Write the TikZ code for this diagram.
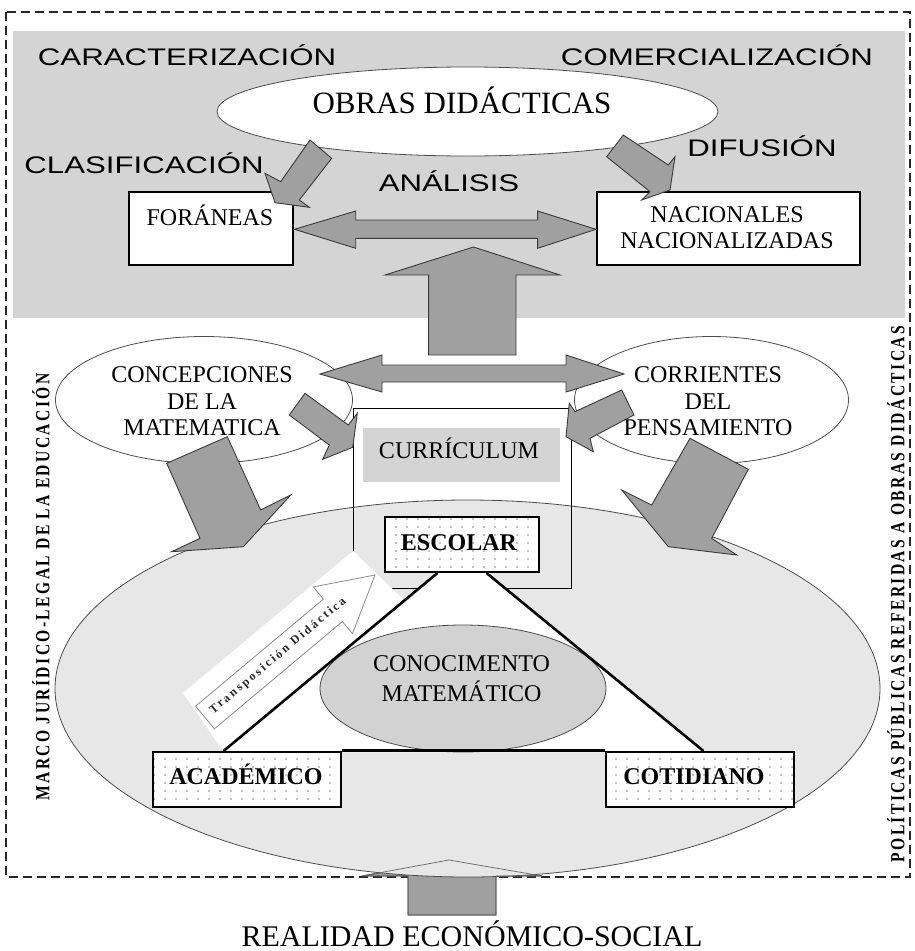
\documentclass[tikz,border=0pt]{standalone}
\usepackage{fontspec}
\setmainfont{Liberation Serif}
\newfontfamily\handfont{Liberation Sans}
\newfontfamily\sidefont[FakeStretch=0.78,LetterSpace=12]{Liberation Serif}
\newfontfamily\transfont[LetterSpace=20]{Liberation Serif}
\usetikzlibrary{shapes.geometric,patterns}
\newcommand\fsz[2]{\fontsize{#1}{#2}\selectfont}

% sparse dot fill for the three knowledge boxes
\pgfdeclarepatternformonly{sparsedots}{\pgfqpoint{-1pt}{-1pt}}{\pgfqpoint{1pt}{1pt}}{\pgfqpoint{11pt}{8pt}}{%
  \pgfpathcircle{\pgfqpoint{0pt}{0pt}}{0.7pt}\pgfusepath{fill}}

\definecolor{panelgray}{HTML}{D4D4D4}
\definecolor{arrowgray}{HTML}{A0A0A0}
\definecolor{fieldgray}{HTML}{E6E7E6}
\definecolor{coregray}{HTML}{D2D2D2}
\definecolor{edgegray}{HTML}{3A3A3A}

\tikzset{
  frame/.style={draw=black!85, line width=1.2pt, dash pattern=on 9pt off 5pt},
  blockarrow/.style={fill=arrowgray, draw=edgegray, line width=0.9pt, line join=miter},
  arrowedge/.style={draw=edgegray, line width=0.9pt, line join=miter},
  ovalnode/.style={ellipse, draw=black!70, line width=0.8pt, inner sep=0pt},
  plainbox/.style={rectangle, draw=black, line width=1.2pt, fill=white, inner sep=0pt},
  dotbox/.style={rectangle, draw=black, line width=2.8pt, fill=white,
    postaction={pattern=sparsedots}, inner sep=0pt},
  hand/.style={font=\handfont\fsz{24}{26}, inner sep=0pt, anchor=base},
  serif/.style={font=\fsz{24}{26.5}, inner sep=0pt, align=center},
  boldlabel/.style={font=\bfseries\fsz{24}{26}, inner sep=0pt, anchor=base},
  triline/.style={line width=2.6pt, line cap=round},
  sidelabel/.style={font=\sidefont\bfseries\fsz{20}{22}, rotate=90, inner sep=0pt},
}

\begin{document}
\begin{tikzpicture}[x=1pt,y=-1pt]
\useasboundingbox (0,0) rectangle (914,951);

% outer dashed frame and the upper panel
\draw[frame] (6,12) rectangle (910,877);
\fill[panelgray] (13,31) rectangle (905,318);

% socio-economic reality pushing up into the field
\filldraw[blockarrow] (449,860) -- (542,876) -- (496,876) -- (496,915) -- (408,915)
  -- (408,876) -- (362,876) -- cycle;

% the large field ellipse
\node[ovalnode, fill=fieldgray, minimum width=825pt, minimum height=377pt] (field) at (467.5,688.5) {};
\draw[arrowedge, draw=black!60, line width=0.7pt] (449,860) -- (542,876) -- (496,876) -- (496,915)
  -- (408,915) -- (408,876) -- (362,876) -- cycle;

% side ellipses
\node[ovalnode, fill=white, minimum width=297pt, minimum height=127pt] (conc) at (204,400) {};
\node[ovalnode, fill=white, minimum width=274pt, minimum height=127pt] (corr) at (711.5,400) {};

% curriculum frame
\node[rectangle, draw=black, line width=1pt, minimum width=218pt, minimum height=180pt, inner sep=0pt] (currbox) at (462,498) {};
\node[rectangle, fill=panelgray, minimum width=197pt, minimum height=54pt, inner sep=0pt] (currlbl) at (461.5,455) {};

% white band and triangle interior
\fill[white] (183,693) -- (353,551) -- (404,600) -- (437,573) -- (487,573) -- (703,752) -- (224,752) -- cycle;

% knowledge core
\node[ovalnode, fill=coregray, minimum width=286pt, minimum height=127pt] (core) at (463,688.5) {};

% didactic transposition arrow
\filldraw[fill=white, draw=black!45, line width=0.8pt, line join=miter]
  (195.6,706.2) -- (323.4,599.1) -- (313.3,586.9) -- (375,575) -- (352.5,633.7)
  -- (342.3,621.6) -- (214.4,728.8) -- cycle;
\node[font=\transfont\bfseries\fsz{12}{14}, text=black!85, rotate=40, inner sep=0pt] (transp) at (278,656) {Transposición Didáctica};

% the three kinds of knowledge
\node[dotbox, minimum width=154pt, minimum height=55pt] (esc) at (462,544.5) {};
\node[dotbox, minimum width=188pt, minimum height=55pt] (acad) at (247,779.5) {};
\node[dotbox, minimum width=188pt, minimum height=55pt] (cot) at (700,779.5) {};

\draw[triline] ([xshift=-25pt]esc.south) -- ([xshift=-23pt]acad.north);
\draw[triline] ([xshift=25pt]esc.south) -- ([xshift=3pt]cot.north);
\draw[line width=2.6pt] (acad.north east) -- (cot.north west);

% arrows from the side ellipses into the field
\filldraw[blockarrow] (166.7,463.3) -- (227.3,436.7) -- (260.7,510) -- (290.7,495)
  -- (243.3,546.7) -- (171.7,551.7) -- (200,538.3) -- cycle;
\filldraw[blockarrow] (690,438.3) -- (748.3,469.3) -- (711.7,538.3) -- (736.7,555)
  -- (668.3,546.7) -- (621.7,490) -- (651.7,505) -- cycle;

% arrows from the side ellipses into the curriculum
\filldraw[blockarrow] (305,393.3) -- (348.3,425) -- (357.3,413.3) -- (352.7,447.3)
  -- (322.7,459.3) -- (329.3,445) -- (289.3,415) -- cycle;
\filldraw[blockarrow] (621.7,390) -- (634,415) -- (590,438.3) -- (593.3,451.7)
  -- (566,436.7) -- (569.3,403.3) -- (575,411.7) -- cycle;

% double arrow between the side ellipses
\filldraw[blockarrow] (320,374) -- (382,355) -- (382,365) -- (566,365) -- (566,355)
  -- (624,374) -- (566,392) -- (566,382) -- (382,382) -- (382,392) -- cycle;

% upward arrow to the panel
\filldraw[blockarrow] (473.5,247) -- (560,275) -- (516,275) -- (516,355) -- (428.6,355)
  -- (428.6,275) -- (385,275) -- cycle;

% panel contents
\node[ovalnode, fill=white, minimum width=501pt, minimum height=89pt] (obras) at (467.5,111.5) {};
\node[plainbox, minimum width=164pt, minimum height=73pt] (fora) at (211,228.5) {};
\node[plainbox, minimum width=263pt, minimum height=73pt] (naci) at (728.5,228.5) {};

\filldraw[blockarrow] (294.5,229.3) -- (355.7,211) -- (355.7,220) -- (537.6,220) -- (537.6,211)
  -- (596,229.3) -- (537.6,248.3) -- (537.6,238.3) -- (355.7,238.3) -- (355.7,248.3) -- cycle;
\filldraw[blockarrow] (310,140) -- (331.7,158.3) -- (299.3,200) -- (309.3,207.3)
  -- (275,202.7) -- (265,173.3) -- (280.7,181.7) -- cycle;
\filldraw[blockarrow] (623.3,135) -- (668.3,165) -- (675,156.7) -- (670,190)
  -- (641.7,200) -- (650,191.7) -- (606.7,156.7) -- cycle;

% labels
\node[font=\fsz{31}{33}, inner sep=0pt, anchor=base] (obrastxt) at (462,113) {OBRAS DIDÁCTICAS};
\node[font=\fsz{24}{26}, inner sep=0pt, anchor=base] (foratxt) at (210,225) {FORÁNEAS};
\node[serif, font=\fsz{24}{25.5}] (nacitxt) at (727,227.5) {NACIONALES\\NACIONALIZADAS};

\node[hand] (carac) at (187,65.5) {\scalebox{1.3}[1]{CARACTERIZACIÓN}};
\node[hand] (comer) at (717,65.5) {\scalebox{1.3}[1]{COMERCIALIZACIÓN}};
\node[hand] (clasif) at (144,173) {\scalebox{1.3}[1]{CLASIFICACIÓN}};
\node[hand] (difus) at (762,156) {\scalebox{1.3}[1]{DIFUSIÓN}};
\node[hand] (anal) at (449,191.5) {\scalebox{1.3}[1]{ANÁLISIS}};

\node[serif] (conctxt) at (202,401.5) {CONCEPCIONES\\DE LA\\MATEMATICA};
\node[serif] (corrtxt) at (708,401.5) {CORRIENTES\\DEL\\PENSAMIENTO};
\node[font=\fsz{24}{26}, inner sep=0pt, anchor=base] (currtxt) at (459,458.3) {CURRÍCULUM};
\node[boldlabel] (esctxt) at (459,550) {ESCOLAR};
\node[serif, font=\fsz{24}{30}] (coretxt) at (461.5,679) {CONOCIMENTO\\MATEMÁTICO};
\node[boldlabel] (acadtxt) at (246,784) {ACADÉMICO};
\node[boldlabel] (cottxt) at (694,784) {COTIDIANO};

\node[font=\fsz{30}{32}, inner sep=0pt, anchor=base] (real) at (472,946) {REALIDAD ECONÓMICO-SOCIAL};

\node[sidelabel] (marco) at (41,587) {MARCO JURÍDICO-LEGAL DE LA EDUCACIÓN};
\node[sidelabel] (polit) at (896,594) {POLÍTICAS PÚBLICAS REFERIDAS A OBRAS DIDÁCTICAS};
\end{tikzpicture}
\end{document}
